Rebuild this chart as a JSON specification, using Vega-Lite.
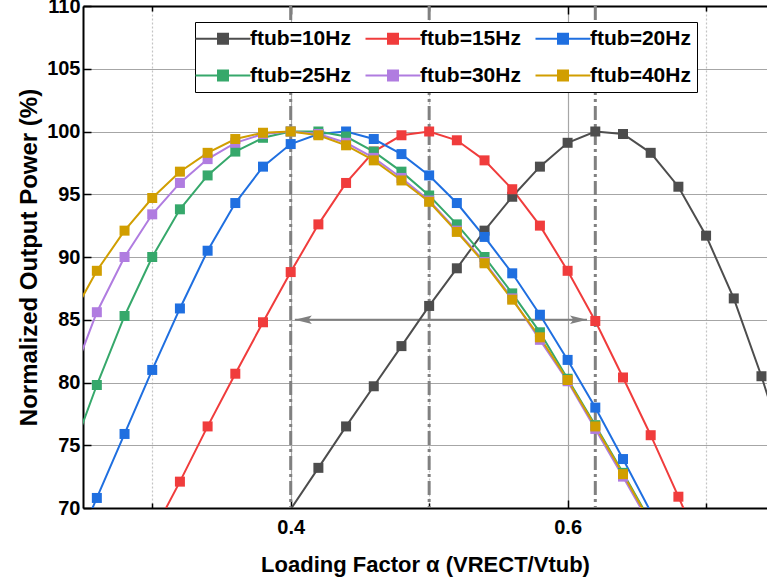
{
  "$schema": "https://vega.github.io/schema/vega-lite/v6.json",
  "width": 684,
  "height": 502,
  "autosize": {"type": "none"},
  "padding": {"left": 83, "top": 6, "right": 0, "bottom": 79},
  "background": "white",
  "config": {
    "font": "Liberation Sans",
    "view": {"stroke": null},
    "style": {
      "guide-label": {"font": "Liberation Sans", "fontSize": 20, "fontWeight": "bold", "fill": "black"},
      "guide-title": {"font": "Liberation Sans", "fontSize": 22, "fontWeight": "bold", "fill": "black"}
    },
    "axis": {
      "domainColor": "black",
      "domainWidth": 2,
      "tickColor": "black",
      "tickWidth": 1.5,
      "labelFont": "Liberation Sans",
      "labelFontSize": 20,
      "labelFontWeight": "bold",
      "labelColor": "black",
      "titleFont": "Liberation Sans",
      "titleFontSize": 22,
      "titleFontWeight": "bold",
      "titleColor": "black"
    }
  },
  "datasets": {
    "curves": [
      {"s": "ftub=10Hz", "x": 0.38, "y": 66.6},
      {"s": "ftub=10Hz", "x": 0.40, "y": 69.9},
      {"s": "ftub=10Hz", "x": 0.42, "y": 73.2},
      {"s": "ftub=10Hz", "x": 0.44, "y": 76.5},
      {"s": "ftub=10Hz", "x": 0.46, "y": 79.7},
      {"s": "ftub=10Hz", "x": 0.48, "y": 82.9},
      {"s": "ftub=10Hz", "x": 0.50, "y": 86.1},
      {"s": "ftub=10Hz", "x": 0.52, "y": 89.1},
      {"s": "ftub=10Hz", "x": 0.54, "y": 92.1},
      {"s": "ftub=10Hz", "x": 0.56, "y": 94.8},
      {"s": "ftub=10Hz", "x": 0.58, "y": 97.2},
      {"s": "ftub=10Hz", "x": 0.60, "y": 99.1},
      {"s": "ftub=10Hz", "x": 0.62, "y": 100.0},
      {"s": "ftub=10Hz", "x": 0.64, "y": 99.8},
      {"s": "ftub=10Hz", "x": 0.66, "y": 98.3},
      {"s": "ftub=10Hz", "x": 0.68, "y": 95.6},
      {"s": "ftub=10Hz", "x": 0.70, "y": 91.7},
      {"s": "ftub=10Hz", "x": 0.72, "y": 86.7},
      {"s": "ftub=10Hz", "x": 0.74, "y": 80.5},
      {"s": "ftub=10Hz", "x": 0.76, "y": 73.5},

      {"s": "ftub=15Hz", "x": 0.30, "y": 67.9},
      {"s": "ftub=15Hz", "x": 0.32, "y": 72.1},
      {"s": "ftub=15Hz", "x": 0.34, "y": 76.5},
      {"s": "ftub=15Hz", "x": 0.36, "y": 80.7},
      {"s": "ftub=15Hz", "x": 0.38, "y": 84.8},
      {"s": "ftub=15Hz", "x": 0.40, "y": 88.8},
      {"s": "ftub=15Hz", "x": 0.42, "y": 92.6},
      {"s": "ftub=15Hz", "x": 0.44, "y": 95.9},
      {"s": "ftub=15Hz", "x": 0.46, "y": 98.4},
      {"s": "ftub=15Hz", "x": 0.48, "y": 99.7},
      {"s": "ftub=15Hz", "x": 0.50, "y": 100.0},
      {"s": "ftub=15Hz", "x": 0.52, "y": 99.3},
      {"s": "ftub=15Hz", "x": 0.54, "y": 97.7},
      {"s": "ftub=15Hz", "x": 0.56, "y": 95.4},
      {"s": "ftub=15Hz", "x": 0.58, "y": 92.5},
      {"s": "ftub=15Hz", "x": 0.60, "y": 88.9},
      {"s": "ftub=15Hz", "x": 0.62, "y": 84.9},
      {"s": "ftub=15Hz", "x": 0.64, "y": 80.4},
      {"s": "ftub=15Hz", "x": 0.66, "y": 75.8},
      {"s": "ftub=15Hz", "x": 0.68, "y": 70.9},
      {"s": "ftub=15Hz", "x": 0.70, "y": 65.9},

      {"s": "ftub=20Hz", "x": 0.24, "y": 65.7},
      {"s": "ftub=20Hz", "x": 0.26, "y": 70.8},
      {"s": "ftub=20Hz", "x": 0.28, "y": 75.9},
      {"s": "ftub=20Hz", "x": 0.30, "y": 81.0},
      {"s": "ftub=20Hz", "x": 0.32, "y": 85.9},
      {"s": "ftub=20Hz", "x": 0.34, "y": 90.5},
      {"s": "ftub=20Hz", "x": 0.36, "y": 94.3},
      {"s": "ftub=20Hz", "x": 0.38, "y": 97.2},
      {"s": "ftub=20Hz", "x": 0.40, "y": 99.0},
      {"s": "ftub=20Hz", "x": 0.42, "y": 99.8},
      {"s": "ftub=20Hz", "x": 0.44, "y": 100.0},
      {"s": "ftub=20Hz", "x": 0.46, "y": 99.4},
      {"s": "ftub=20Hz", "x": 0.48, "y": 98.2},
      {"s": "ftub=20Hz", "x": 0.50, "y": 96.5},
      {"s": "ftub=20Hz", "x": 0.52, "y": 94.3},
      {"s": "ftub=20Hz", "x": 0.54, "y": 91.6},
      {"s": "ftub=20Hz", "x": 0.56, "y": 88.7},
      {"s": "ftub=20Hz", "x": 0.58, "y": 85.4},
      {"s": "ftub=20Hz", "x": 0.60, "y": 81.8},
      {"s": "ftub=20Hz", "x": 0.62, "y": 78.0},
      {"s": "ftub=20Hz", "x": 0.64, "y": 73.9},
      {"s": "ftub=20Hz", "x": 0.66, "y": 69.7},
      {"s": "ftub=20Hz", "x": 0.68, "y": 65.3},

      {"s": "ftub=25Hz", "x": 0.24, "y": 73.8},
      {"s": "ftub=25Hz", "x": 0.26, "y": 79.8},
      {"s": "ftub=25Hz", "x": 0.28, "y": 85.3},
      {"s": "ftub=25Hz", "x": 0.30, "y": 90.0},
      {"s": "ftub=25Hz", "x": 0.32, "y": 93.8},
      {"s": "ftub=25Hz", "x": 0.34, "y": 96.5},
      {"s": "ftub=25Hz", "x": 0.36, "y": 98.4},
      {"s": "ftub=25Hz", "x": 0.38, "y": 99.5},
      {"s": "ftub=25Hz", "x": 0.40, "y": 100.0},
      {"s": "ftub=25Hz", "x": 0.42, "y": 100.0},
      {"s": "ftub=25Hz", "x": 0.44, "y": 99.6},
      {"s": "ftub=25Hz", "x": 0.46, "y": 98.4},
      {"s": "ftub=25Hz", "x": 0.48, "y": 96.8},
      {"s": "ftub=25Hz", "x": 0.50, "y": 94.9},
      {"s": "ftub=25Hz", "x": 0.52, "y": 92.6},
      {"s": "ftub=25Hz", "x": 0.54, "y": 90.0},
      {"s": "ftub=25Hz", "x": 0.56, "y": 87.1},
      {"s": "ftub=25Hz", "x": 0.58, "y": 84.0},
      {"s": "ftub=25Hz", "x": 0.60, "y": 80.3},
      {"s": "ftub=25Hz", "x": 0.62, "y": 76.6},
      {"s": "ftub=25Hz", "x": 0.64, "y": 72.8},
      {"s": "ftub=25Hz", "x": 0.66, "y": 68.9},

      {"s": "ftub=30Hz", "x": 0.24, "y": 79.8},
      {"s": "ftub=30Hz", "x": 0.26, "y": 85.6},
      {"s": "ftub=30Hz", "x": 0.28, "y": 90.0},
      {"s": "ftub=30Hz", "x": 0.30, "y": 93.4},
      {"s": "ftub=30Hz", "x": 0.32, "y": 95.9},
      {"s": "ftub=30Hz", "x": 0.34, "y": 97.8},
      {"s": "ftub=30Hz", "x": 0.36, "y": 99.1},
      {"s": "ftub=30Hz", "x": 0.38, "y": 99.8},
      {"s": "ftub=30Hz", "x": 0.40, "y": 100.0},
      {"s": "ftub=30Hz", "x": 0.42, "y": 99.8},
      {"s": "ftub=30Hz", "x": 0.44, "y": 99.1},
      {"s": "ftub=30Hz", "x": 0.46, "y": 97.9},
      {"s": "ftub=30Hz", "x": 0.48, "y": 96.3},
      {"s": "ftub=30Hz", "x": 0.50, "y": 94.5},
      {"s": "ftub=30Hz", "x": 0.52, "y": 92.1},
      {"s": "ftub=30Hz", "x": 0.54, "y": 89.6},
      {"s": "ftub=30Hz", "x": 0.56, "y": 86.7},
      {"s": "ftub=30Hz", "x": 0.58, "y": 83.4},
      {"s": "ftub=30Hz", "x": 0.60, "y": 80.1},
      {"s": "ftub=30Hz", "x": 0.62, "y": 76.3},
      {"s": "ftub=30Hz", "x": 0.64, "y": 72.5},
      {"s": "ftub=30Hz", "x": 0.66, "y": 68.6},

      {"s": "ftub=40Hz", "x": 0.24, "y": 84.9},
      {"s": "ftub=40Hz", "x": 0.26, "y": 88.9},
      {"s": "ftub=40Hz", "x": 0.28, "y": 92.1},
      {"s": "ftub=40Hz", "x": 0.30, "y": 94.7},
      {"s": "ftub=40Hz", "x": 0.32, "y": 96.8},
      {"s": "ftub=40Hz", "x": 0.34, "y": 98.3},
      {"s": "ftub=40Hz", "x": 0.36, "y": 99.4},
      {"s": "ftub=40Hz", "x": 0.38, "y": 99.9},
      {"s": "ftub=40Hz", "x": 0.40, "y": 100.0},
      {"s": "ftub=40Hz", "x": 0.42, "y": 99.7},
      {"s": "ftub=40Hz", "x": 0.44, "y": 98.9},
      {"s": "ftub=40Hz", "x": 0.46, "y": 97.7},
      {"s": "ftub=40Hz", "x": 0.48, "y": 96.1},
      {"s": "ftub=40Hz", "x": 0.50, "y": 94.4},
      {"s": "ftub=40Hz", "x": 0.52, "y": 92.0},
      {"s": "ftub=40Hz", "x": 0.54, "y": 89.5},
      {"s": "ftub=40Hz", "x": 0.56, "y": 86.6},
      {"s": "ftub=40Hz", "x": 0.58, "y": 83.6},
      {"s": "ftub=40Hz", "x": 0.60, "y": 80.2},
      {"s": "ftub=40Hz", "x": 0.62, "y": 76.5},
      {"s": "ftub=40Hz", "x": 0.64, "y": 72.7},
      {"s": "ftub=40Hz", "x": 0.66, "y": 68.8}
    ],
    "vlines": [{"x": 0.40}, {"x": 0.50}, {"x": 0.62}],
    "span": [{"x": 0.403, "x2": 0.614, "y": 85}],
    "heads": [{"x": 0.403, "y": 85, "end": "L"}, {"x": 0.614, "y": 85, "end": "R"}]
  },
  "layer": [
    {
      "data": {"name": "vlines"},
      "mark": {"type": "rule", "color": "#808080", "strokeWidth": 3, "strokeDash": [14, 4, 3, 4]},
      "encoding": {
        "x": {
          "field": "x", "type": "quantitative",
          "scale": {"domain": [0.25, 0.744], "nice": false, "zero": false},
          "axis": {
            "orient": "top", "values": [0.3, 0.4, 0.5, 0.6, 0.7], "labels": false, "title": null, "grid": false,
            "tickSize": {"condition": {"test": "datum.value == 0.4 || datum.value == 0.6", "value": -8}, "value": -5}
          }
        }
      }
    },
    {
      "data": {"name": "span"},
      "mark": {"type": "rule", "color": "#808080", "strokeWidth": 2},
      "encoding": {
        "x": {"field": "x", "type": "quantitative", "axis": null},
        "x2": {"field": "x2"},
        "y": {"field": "y", "type": "quantitative"}
      }
    },
    {
      "data": {"name": "heads"},
      "mark": {"type": "point", "filled": true, "opacity": 1, "size": 289, "color": "#808080"},
      "encoding": {
        "x": {"field": "x", "type": "quantitative", "axis": null},
        "y": {"field": "y", "type": "quantitative"},
        "shape": {
          "field": "end", "type": "nominal",
          "scale": {"domain": ["L", "R"], "range": ["M0,0L2,-0.5L1.6,0L2,0.5Z", "M0,0L-2,-0.5L-1.6,0L-2,0.5Z"]},
          "legend": null
        }
      }
    },
    {
      "data": {"name": "curves"},
      "mark": {"type": "line", "strokeWidth": 2, "clip": true},
      "encoding": {
        "x": {
          "field": "x", "type": "quantitative",
          "axis": {
            "orient": "bottom", "values": [0.3, 0.4, 0.5, 0.6, 0.7], "format": ".1f",
            "labelExpr": "datum.value == 0.4 || datum.value == 0.6 ? datum.label : ''",
            "labelFontSize": 20, "labelFontWeight": "bold",
            "labelPadding": 17,
            "title": "Loading Factor α (VRECT/Vtub)", "titlePadding": 17,
            "titleFontSize": 22,
            "grid": true,
            "gridColor": {"condition": {"test": "datum.value == 0.4 || datum.value == 0.6", "value": "#a6a6a6"}, "value": "#c4c4c4"},
            "gridDash": {"condition": {"test": "datum.value == 0.4 || datum.value == 0.6", "value": []}, "value": [2, 2]},
            "gridWidth": 1.2,
            "tickSize": {"condition": {"test": "datum.value == 0.4 || datum.value == 0.6", "value": -8}, "value": -5}
          }
        },
        "y": {
          "field": "y", "type": "quantitative",
          "scale": {"domain": [70, 110], "nice": false, "zero": false},
          "axis": {
            "values": [70, 72.5, 75, 77.5, 80, 82.5, 85, 87.5, 90, 92.5, 95, 97.5, 100, 102.5, 105, 107.5, 110],
            "labelExpr": "datum.value % 5 == 0 ? datum.label : ''",
            "labelFont": "Liberation Sans", "labelFontSize": 20, "labelFontWeight": "bold", "labelColor": "black",
            "labelPadding": 11,
            "title": "Normalized Output Power (%)", "titlePadding": 5,
            "titleFontSize": 24,
            "grid": true,
            "gridColor": {"condition": {"test": "datum.value % 5 == 0", "value": "#a6a6a6"}, "value": "#c4c4c4"},
            "gridDash": {"condition": {"test": "datum.value % 5 == 0", "value": []}, "value": [2, 2]},
            "gridWidth": 1.2,
            "tickSize": {"condition": {"test": "datum.value % 5 == 0", "value": -8}, "value": -5}
          }
        },
        "color": {
          "field": "s", "type": "nominal",
          "scale": {
            "domain": ["ftub=10Hz", "ftub=15Hz", "ftub=20Hz", "ftub=25Hz", "ftub=30Hz", "ftub=40Hz"],
            "range": ["#4d4d4d", "#f03c3c", "#1f6fe0", "#36a86b", "#b07ce0", "#d19e00"]
          },
          "legend": {
            "orient": "none", "legendX": 112, "legendY": 16, "columns": 3, "direction": "horizontal",
            "title": null,
            "symbolType": "M-3.2,0L7.8,0M1.3,-1L3.3,-1L3.3,1L1.3,1Z",
            "symbolSize": 100, "symbolStrokeWidth": 2,
            "labelFont": "Liberation Sans", "labelFontSize": 21, "labelFontWeight": "bold", "labelColor": "black",
            "labelOffset": 28, "labelLimit": 0,
            "columnPadding": 10, "rowPadding": 15, "padding": 6,
            "strokeColor": "black", "fillColor": "white",
            "encode": {"symbols": {"update": {
              "fill": {"scale": "color", "field": "value"},
              "stroke": {"scale": "color", "field": "value"},
              "strokeWidth": {"value": 2}, "opacity": {"value": 1}
            }}}
          }
        }
      }
    },
    {
      "data": {"name": "curves"},
      "transform": [{"filter": "datum.y >= 70 && datum.x >= 0.25 && datum.x <= 0.745"}],
      "mark": {"type": "square", "size": 100, "filled": true, "opacity": 1},
      "encoding": {
        "x": {"field": "x", "type": "quantitative", "axis": null},
        "y": {"field": "y", "type": "quantitative"},
        "color": {
          "field": "s", "type": "nominal",
          "legend": {
            "orient": "none", "legendX": 112, "legendY": 16, "columns": 3, "direction": "horizontal",
            "title": null,
            "symbolType": "M-3.2,0L7.8,0M1.3,-1L3.3,-1L3.3,1L1.3,1Z",
            "symbolSize": 100, "symbolStrokeWidth": 2,
            "labelFont": "Liberation Sans", "labelFontSize": 21, "labelFontWeight": "bold", "labelColor": "black",
            "labelOffset": 28, "labelLimit": 0,
            "columnPadding": 10, "rowPadding": 15, "padding": 6,
            "strokeColor": "black", "fillColor": "white",
            "encode": {"symbols": {"update": {
              "fill": {"scale": "color", "field": "value"},
              "stroke": {"scale": "color", "field": "value"},
              "strokeWidth": {"value": 2}, "opacity": {"value": 1}
            }}}
          }
        }
      }
    }
  ],
  "resolve": {"axis": {"x": "independent"}}
}
